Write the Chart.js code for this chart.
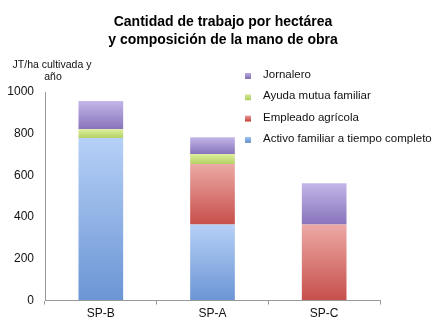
<!DOCTYPE html>
<html>
<head>
<meta charset="utf-8">
<script src="https://cdn.jsdelivr.net/npm/chart.js@4"></script>
<style>
  html, body { margin: 0; padding: 0; background: #fff; }
  #wrap { width: 448px; height: 332px; position: relative; }
</style>
</head>
<body>
<div id="wrap"><canvas id="chart" width="448" height="332"></canvas></div>
<script>
/* ---------- Data ---------- */
const categories = ['SP-B', 'SP-A', 'SP-C'];
const activoFamiliar = [780, 365, 0];
const empleadoAgricola = [0, 290, 365];
const ayudaMutua = [42, 48, 0];
const jornalero = [135, 80, 198];
const yTicks = [0, 200, 400, 600, 800, 1000];

const titleLines = ['Cantidad de trabajo por hectárea', 'y composición de la mano de obra'];
const axisCaption = ['JT/ha cultivada y', 'año'];

const series = [
  { label: 'Activo familiar a tiempo completo', data: activoFamiliar, top: '#b6d0f7', bottom: '#6b95d4' },
  { label: 'Empleado agrícola', data: empleadoAgricola, top: '#eca9a6', bottom: '#c74f4a' },
  { label: 'Ayuda mutua familiar', data: ayudaMutua, top: '#ddef9e', bottom: '#b5d166' },
  { label: 'Jornalero', data: jornalero, top: '#c3b6e8', bottom: '#8874bb' },
];

const FONT = '"Liberation Sans", Arial, Helvetica, sans-serif';

/* gradient per stacked segment, from the segment top to its bottom */
function segmentGradient(ctx, s, di) {
  const chart = ctx.chart;
  const y = chart.scales.y;
  if (!y || ctx.dataIndex === undefined) return s.bottom;
  let base = 0;
  for (let k = 0; k < di; k++) base += series[k].data[ctx.dataIndex];
  const val = s.data[ctx.dataIndex];
  const y0 = y.getPixelForValue(base);
  const y1 = y.getPixelForValue(base + val);
  if (!isFinite(y0) || !isFinite(y1) || y0 === y1) return s.bottom;
  const g = chart.ctx.createLinearGradient(0, y1, 0, y0);
  g.addColorStop(0, s.top);
  g.addColorStop(1, s.bottom);
  return g;
}

/* ---------- Text plugin: title, axis caption, legend ---------- */
const decor = {
  id: 'decor',
  afterDraw(chart) {
    const c = chart.ctx;
    c.save();
    c.fillStyle = '#000';
    c.textAlign = 'center';
    c.textBaseline = 'middle';
    c.font = 'bold 14px ' + FONT;
    c.fillText(titleLines[0], 223, 22);
    c.fillText(titleLines[1], 223, 40);

    c.font = '10.5px ' + FONT;
    c.fillStyle = '#111';
    c.fillText(axisCaption[0], 52, 65);
    c.fillText(axisCaption[1], 53, 77);

    c.textAlign = 'left';
    c.font = '11.5px ' + FONT;
    const items = series.slice().reverse();
    items.forEach((s, i) => {
      const yy = 75 + i * 21.3;
      const g = c.createLinearGradient(0, yy - 3, 0, yy + 3);
      g.addColorStop(0, s.top);
      g.addColorStop(1, s.bottom);
      c.fillStyle = g;
      c.fillRect(245, yy - 2, 6, 6);
      c.fillStyle = '#111';
      c.fillText(s.label, 263, yy);
    });
    c.restore();
  },
};

new Chart(document.getElementById('chart'), {
  type: 'bar',
  data: {
    labels: categories,
    datasets: series.map((s, di) => ({
      label: s.label,
      data: s.data,
      backgroundColor: (ctx) => segmentGradient(ctx, s, di),
      borderWidth: 0,
      categoryPercentage: 1,
      barPercentage: 0.4,
    })),
  },
  options: {
    responsive: false,
    animation: false,
    layout: { padding: { top: 92, right: 68, left: 0, bottom: 9 } },
    plugins: {
      legend: { display: false },
      title: { display: false },
      tooltip: { enabled: false },
    },
    scales: {
      x: {
        stacked: true,
        offset: true,
        grid: { offset: true, drawOnChartArea: false, drawTicks: true, tickLength: 4, color: '#9a9a9a' },
        border: { display: true, color: '#9a9a9a', width: 1 },
        ticks: { color: '#111', font: { family: FONT, size: 12 }, padding: 2 },
      },
      y: {
        stacked: true,
        min: 0,
        max: 1000,
        afterFit(scale) { scale.width = 45; },
        afterBuildTicks(scale) { scale.ticks = yTicks.map((v) => ({ value: v })); },
        grid: { drawOnChartArea: false, drawTicks: false },
        border: { display: true, color: '#9a9a9a', width: 1 },
        ticks: {
          color: '#111',
          font: { family: FONT, size: 12 },
          padding: 11,
          callback: (v) => String(v),
        },
      },
    },
  },
  plugins: [decor],
});
</script>
</body>
</html>
